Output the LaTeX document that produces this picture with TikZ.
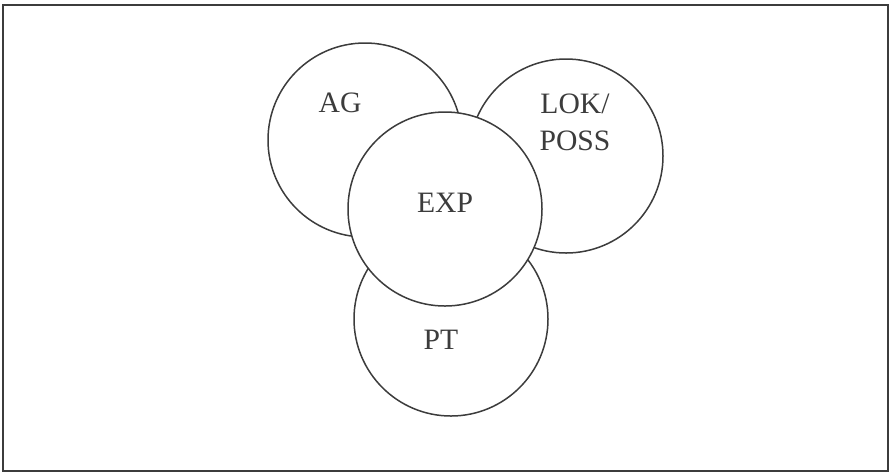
\documentclass[tikz,border=0pt]{standalone}
\usepackage{fontspec}
\setmainfont{Liberation Serif}
\definecolor{ink}{HTML}{3C3C3C}
\begin{document}
\begin{tikzpicture}[x=0.5pt,y=-0.5pt,
  role/.style={circle,draw=ink,line width=0.75pt,fill=white,minimum size=97pt,inner sep=0pt},
  lbl/.style={text=ink,font=\fontsize{14.8}{18.5}\selectfont,inner sep=0pt,align=center}]
\useasboundingbox (0,0) rectangle (893,473);
\draw[ink,line width=0.8pt] (3,5) rectangle (888,471);
\node[role] (ag) at (365,140) {};
\node[role] (lok) at (566,156) {};
\node[role] (pt) at (451,319) {};
\node[role] (exp) at (445,209) {};
\node[lbl] (agt) at (340,103) {AG};
\node[lbl] (lokt) at (575,122) {LOK/\\POSS};
\node[lbl] (expt) at (445,203) {EXP};
\node[lbl] (ptt) at (441,340) {PT};
\end{tikzpicture}
\end{document}
